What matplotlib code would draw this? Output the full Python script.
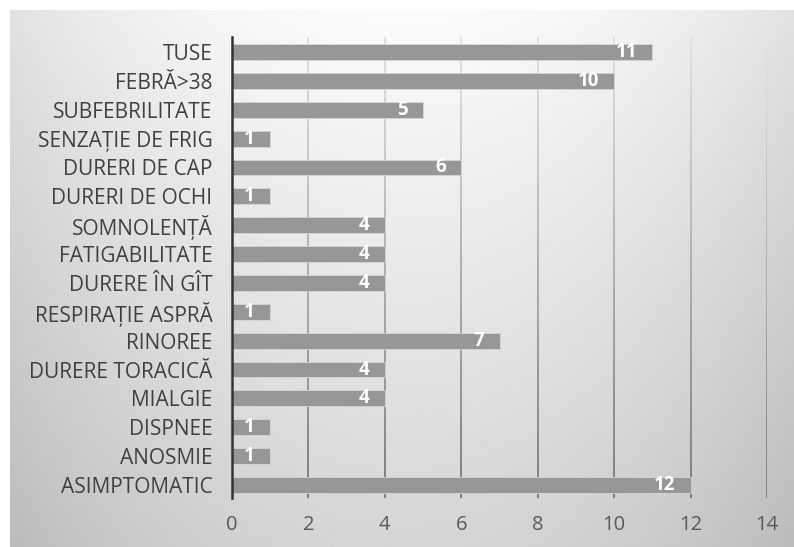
import numpy as np
from matplotlib import pyplot as plt
from matplotlib.collections import LineCollection

categories = ['TUSE', 'FEBRĂ>38', 'SUBFEBRILITATE', 'SENZAȚIE DE FRIG', 'DURERI DE CAP',
              'DURERI DE OCHI', 'SOMNOLENȚĂ', 'FATIGABILITATE', 'DURERE ÎN GÎT',
              'RESPIRAȚIE ASPRĂ', 'RINOREE', 'DURERE TORACICĂ', 'MIALGIE', 'DISPNEE',
              'ANOSMIE', 'ASIMPTOMATIC']
values = [11, 10, 5, 1, 6, 1, 4, 4, 4, 1, 7, 4, 4, 1, 1, 12]
xticks = [0, 2, 4, 6, 8, 10, 12, 14]

plt.rcParams['font.family'] = ['Open Sans', 'DejaVu Sans']

fig = plt.figure(figsize=(7.94, 5.47), dpi=100)
fig.patch.set_facecolor('white')

# gradient panel behind everything
bg = fig.add_axes([10/794, 0, 784/794, 537/547])
yy, xx = np.mgrid[0:1:200j, -1:1:300j]
shade = 0.985 - 0.15 * yy - 0.10 * xx**2
bg.imshow(shade, cmap='gray', vmin=0, vmax=1, aspect='auto', extent=[0, 1, 0, 1], origin='upper')
bg.axis('off')

ax = fig.add_axes([232/794, 1 - 498/547, 535/794, 461/547])
ax.patch.set_alpha(0)

pos = np.arange(len(categories))

# gridlines fading from light (top) to darker (bottom)
ylo, yhi = 15.45, -0.52
n = 40
for xv in xticks[1:]:
    ys = np.linspace(yhi, ylo, n + 1)
    segs = [[(xv, ys[i]), (xv, ys[i + 1])] for i in range(n)]
    cols = [str(0.88 - 0.40 * i / n) for i in range(n)]
    ax.add_collection(LineCollection(segs, colors=cols, linewidths=1.4, zorder=1))

ax.barh(pos, values, height=0.55, color='#979797', edgecolor='#d6d6d6', linewidth=0.6, zorder=2)
for p, v in zip(pos, values):
    ax.annotate(str(v), (v, p), xytext=(-11, 0), textcoords='offset points',
                ha='right', va='center', color='white', fontsize=13.5, fontweight='bold', zorder=3)

ax.set_xlim(0, 14)
ax.set_ylim(ylo, yhi)
ax.set_yticks(pos)
ax.set_yticklabels(categories, fontsize=15, color='#404040')
ax.set_xticks(xticks)
ax.set_xticklabels([str(t) for t in xticks], fontsize=14.5, color='#5a5a5a')
ax.tick_params(axis='y', length=0, pad=14)
ax.tick_params(axis='x', length=0, pad=12)
for s in ['top', 'right', 'bottom']:
    ax.spines[s].set_visible(False)
ax.spines['left'].set_color('#333333')
ax.spines['left'].set_linewidth(1.8)
ax.spines['left'].set_zorder(4)

plt.savefig('out.png', dpi=100)
